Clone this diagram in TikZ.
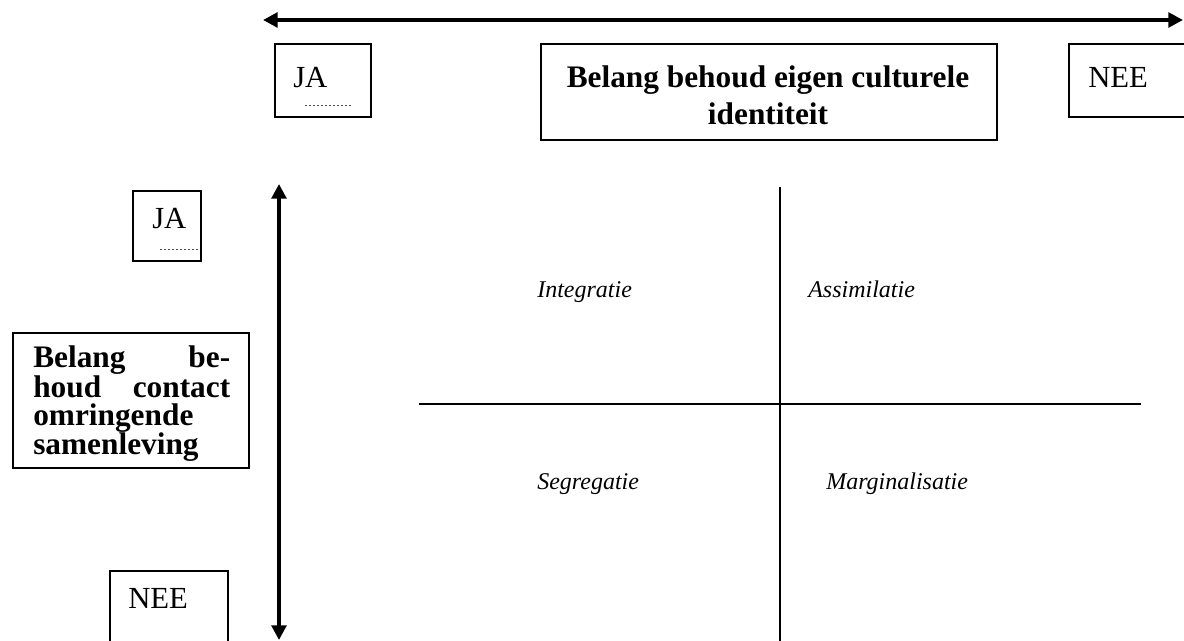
\documentclass[tikz,border=0pt]{standalone}
\usepackage{fontspec}
\setmainfont{Liberation Serif}
\usetikzlibrary{arrows.meta}
\tikzset{
  box/.style={draw=black, line width=1.5pt, inner sep=0pt, anchor=north west},
  reg/.style={anchor=base west, inner sep=0pt, font=\fontsize{23}{26}\selectfont},
  bld/.style={inner sep=0pt, font=\fontsize{23.5}{27.75}\bfseries\selectfont},
  ital/.style={anchor=base west, inner sep=0pt, font=\fontsize{18}{21}\itshape\selectfont},
  bigarrow/.style={line width=3pt, {Triangle[length=11pt,width=11pt]}-{Triangle[length=11pt,width=11pt]}},
  axis/.style={line width=1.4pt},
  tiny/.style={line width=0.5pt, dash pattern=on 1.5pt off 1.5pt, black!70}
}
\begin{document}
\begin{tikzpicture}[x=0.75pt,y=-0.75pt]
\useasboundingbox (0,0) rectangle (1184,641);
\begin{scope}
\clip (0,0) rectangle (1184,641);
% top arrow
\coordinate (hl) at (263,20);
\coordinate (hr) at (1183,20);
\draw[bigarrow] (hl) -- (hr);
% top boxes
\node[box, minimum width=96*0.75pt, minimum height=73*0.75pt] (jatop) at (274,43) {};
\node[reg] (jatopt) at (293,88) {JA};
\coordinate (d1a) at (305,105); \coordinate (d1b) at (352,105);
\draw[tiny] (d1a) -- (d1b);
\node[box, minimum width=456*0.75pt, minimum height=96*0.75pt] (mid) at (540,43) {};
\node[bld, anchor=base] (midt1) at (768,88) {Belang behoud eigen culturele};
\node[bld, anchor=base] (midt2) at (768,125) {identiteit};
\node[box, minimum width=150*0.75pt, minimum height=73*0.75pt] (neetop) at (1068,43) {};
\node[reg] (neetopt) at (1088,88) {NEE};
% vertical arrow
\coordinate (vt) at (279,184);
\coordinate (vb) at (279,640);
\draw[bigarrow] (vt) -- (vb);
% left boxes
\node[box, minimum width=68*0.75pt, minimum height=70*0.75pt] (jaleft) at (132,190) {};
\node[reg] (jaleftt) at (152,229) {JA};
\coordinate (d2a) at (160,249); \coordinate (d2b) at (198,249);
\draw[tiny] (d2a) -- (d2b);
\node[box, minimum width=236*0.75pt, minimum height=135*0.75pt] (leftbox) at (12,332) {};
\node[bld, anchor=base west, text width=197*0.75pt, align=left, font=\fontsize{23.5}{21.75}\bfseries\selectfont] (leftt) at (33,368) {Belang\hfill be-\\houd\hfill contact\\omringende\\samenleving};
\node[box, minimum width=118*0.75pt, minimum height=100*0.75pt] (neebot) at (109,570) {};
\node[reg] (neebott) at (128,608) {NEE};
% quadrant lines
\coordinate (qt) at (780,187); \coordinate (qb) at (780,641);
\coordinate (ql) at (419,404); \coordinate (qr) at (1141,404);
\draw[axis] (qt) -- (qb);
\draw[axis] (ql) -- (qr);
% labels
\node[ital] (integ) at (537,298) {Integratie};
\node[ital] (assim) at (808,298) {Assimilatie};
\node[ital] (segr) at (537,489) {Segregatie};
\node[ital] (marg) at (826,489) {Marginalisatie};
\end{scope}
\end{tikzpicture}
\end{document}
